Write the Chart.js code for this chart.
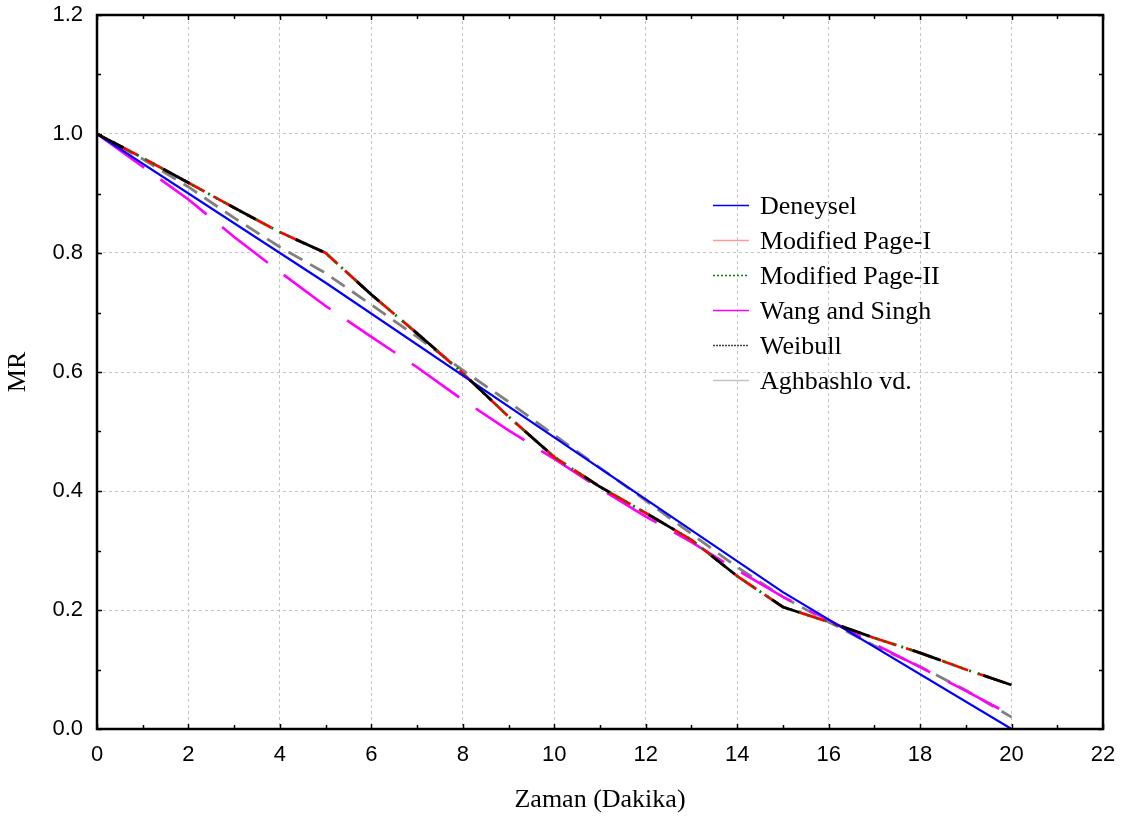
<!DOCTYPE html>
<html>
<head>
<meta charset="utf-8">
<title>MR - Zaman</title>
<script src="https://cdn.jsdelivr.net/npm/chart.js@4/dist/chart.umd.min.js"></script>
<style>
  html, body { margin: 0; padding: 0; background: #fff; }
  canvas { display: block; }
</style>
</head>
<body>
<canvas id="myChart" width="1129" height="823"></canvas>
<script>
// olcum zamanlari (dk)
var olcumZaman = [0, 5, 10, 15, 20];
var deneysel = [1.0, 0.75, 0.49, 0.23, 0.0];

// model ciktilari her dakika icin
var modelZaman = [0, 1, 2, 3, 4, 5, 6, 7, 8, 9, 10, 11, 12, 13, 14, 15, 16, 17, 18, 19, 20];
var modPage1 = [1.0, 0.96, 0.918, 0.876, 0.835, 0.80, 0.73, 0.665, 0.598, 0.525, 0.457, 0.407, 0.363, 0.318, 0.257, 0.205, 0.18, 0.153, 0.128, 0.10, 0.074];
var modPage2 = [1.0, 0.96, 0.918, 0.876, 0.835, 0.80, 0.73, 0.665, 0.598, 0.525, 0.457, 0.407, 0.363, 0.318, 0.257, 0.205, 0.18, 0.153, 0.128, 0.10, 0.074];
var wangSingh = [1.0, 0.945, 0.89, 0.827, 0.768, 0.711, 0.659, 0.608, 0.553, 0.502, 0.454, 0.404, 0.357, 0.314, 0.267, 0.222, 0.183, 0.143, 0.104, 0.064, 0.023];
var weibull = [1.0, 0.96, 0.918, 0.876, 0.835, 0.80, 0.73, 0.665, 0.598, 0.525, 0.457, 0.407, 0.363, 0.318, 0.257, 0.205, 0.18, 0.153, 0.128, 0.10, 0.074];
var aghbashlo = [1.0, 0.958, 0.911, 0.859, 0.81, 0.766, 0.713, 0.659, 0.603, 0.55, 0.494, 0.439, 0.384, 0.328, 0.272, 0.222, 0.18, 0.14, 0.105, 0.065, 0.02];

var xTicks = [0, 2, 4, 6, 8, 10, 12, 14, 16, 18, 20, 22];
var yTicks = [0.0, 0.2, 0.4, 0.6, 0.8, 1.0, 1.2];

function pts(xs, ys) {
    return xs.map(function (x, i) { return { x: x, y: ys[i] }; });
}

// cerceve, iceri bakan tik cizgileri ve grafik icindeki aciklama
var cerceve = {
    id: 'cerceve',
    afterDatasetsDraw: function (chart) {
        var ctx = chart.ctx, a = chart.chartArea;
        var sx = chart.scales.x, sy = chart.scales.y;
        ctx.save();
        ctx.strokeStyle = '#000';
        ctx.lineWidth = 1.5;
        ctx.beginPath();
        for (var v = 0; v <= 22; v++) {
            var px = Math.round(sx.getPixelForValue(v)) + 0.5;
            var len = v % 2 === 0 ? 5 : 4;
            ctx.moveTo(px, a.bottom); ctx.lineTo(px, a.bottom - len);
            ctx.moveTo(px, a.top); ctx.lineTo(px, a.top + len);
        }
        for (var i = 0; i <= 12; i++) {
            var py = Math.round(sy.getPixelForValue(i / 10)) + 0.5;
            var l2 = i % 2 === 0 ? 5 : 4;
            ctx.moveTo(a.left, py); ctx.lineTo(a.left + l2, py);
            ctx.moveTo(a.right, py); ctx.lineTo(a.right - l2, py);
        }
        ctx.stroke();
        ctx.lineWidth = 2.5;
        ctx.strokeRect(a.left, a.top, a.right - a.left, a.bottom - a.top);
        ctx.restore();
    },
    afterDraw: function (chart) {
        var ctx = chart.ctx, a = chart.chartArea;
        var x0 = a.left + 616, y0 = a.top + 190, dy = 34.9;
        ctx.save();
        ctx.font = '26px "Liberation Serif", "Times New Roman", serif';
        ctx.textBaseline = 'middle';
        ctx.fillStyle = '#000';
        chart.data.datasets.forEach(function (ds, i) {
            var y = Math.round(y0 + i * dy) + 0.5;
            ctx.strokeStyle = ds.legendColor || ds.borderColor;
            ctx.lineWidth = 1.5;
            ctx.setLineDash(ds.legendDash || []);
            ctx.beginPath();
            ctx.moveTo(x0, y);
            ctx.lineTo(x0 + 36, y);
            ctx.stroke();
            ctx.fillText(ds.label, x0 + 47, y + 2);
        });
        ctx.restore();
    }
};

var ctx = document.getElementById('myChart').getContext('2d');
var myChart = new Chart(ctx, {
    type: 'line',
    data: {
        datasets: [{
            label: 'Deneysel',
            data: pts(olcumZaman, deneysel),
            borderColor: '#0000ff',
            borderWidth: 2.2,
            order: 2
        }, {
            label: 'Modified Page-I',
            data: pts(modelZaman, modPage1),
            borderColor: '#ff0000',
            legendColor: '#ff9a9a',
            borderWidth: 2.8,
            borderDash: [28, 10],
            borderDashOffset: 20,
            order: 4
        }, {
            label: 'Modified Page-II',
            data: pts(modelZaman, modPage2),
            borderColor: '#008000',
            borderWidth: 2.8,
            borderDash: [2, 7],
            legendDash: [2, 2],
            order: 3
        }, {
            label: 'Wang and Singh',
            data: pts(modelZaman, wangSingh),
            borderColor: '#ff00ff',
            borderWidth: 2.6,
            borderDash: [58, 20],
            order: 5
        }, {
            label: 'Weibull',
            data: pts(modelZaman, weibull),
            borderColor: '#000000',
            legendColor: '#444444',
            borderWidth: 2.8,
            borderDash: [30, 45],
            legendDash: [2, 1],
            order: 1
        }, {
            label: 'Aghbashlo vd.',
            data: pts(modelZaman, aghbashlo),
            borderColor: '#808080',
            legendColor: '#c4c4c4',
            borderWidth: 2.8,
            borderDash: [16, 9],
            order: 6
        }]
    },
    options: {
        responsive: false,
        animation: false,
        devicePixelRatio: 1,
        layout: { padding: { top: 15, right: 26, left: 0, bottom: 0 } },
        elements: {
            point: { radius: 0, hoverRadius: 0 },
            line: { tension: 0, fill: false }
        },
        plugins: {
            legend: { display: false },
            tooltip: { enabled: false }
        },
        scales: {
            x: {
                type: 'linear',
                min: 0,
                max: 22,
                afterBuildTicks: function (scale) {
                    scale.ticks = xTicks.map(function (v) { return { value: v }; });
                },
                afterFit: function (scale) { scale.height = 94; },
                ticks: {
                    color: '#000',
                    padding: 13,
                    maxRotation: 0,
                    autoSkip: false,
                    font: { family: '"Liberation Sans", Arial, sans-serif', size: 22 },
                    callback: function (v) { return String(v); }
                },
                grid: { color: '#c4c4c4', lineWidth: 1, drawTicks: false },
                border: { display: false, dash: [3, 3] },
                title: {
                    display: true,
                    text: 'Zaman (Dakika)',
                    color: '#000',
                    padding: { bottom: 7 },
                    font: { family: '"Liberation Serif", "Times New Roman", serif', size: 26 }
                }
            },
            y: {
                type: 'linear',
                min: 0,
                max: 1.2,
                afterBuildTicks: function (scale) {
                    scale.ticks = yTicks.map(function (v) { return { value: v }; });
                },
                afterFit: function (scale) {
                    scale.width = 97;
                    scale.paddingTop = 0;
                    scale.paddingBottom = 0;
                },
                ticks: {
                    color: '#000',
                    padding: 14,
                    font: { family: '"Liberation Sans", Arial, sans-serif', size: 22 },
                    callback: function (v) { return Number(v).toFixed(1); }
                },
                grid: { color: '#c4c4c4', lineWidth: 1, drawTicks: false },
                border: { display: false, dash: [3, 3] },
                title: {
                    display: true,
                    text: 'MR',
                    color: '#000',
                    padding: { top: 3 },
                    font: { family: '"Liberation Serif", "Times New Roman", serif', size: 26 }
                }
            }
        }
    },
    plugins: [cerceve]
});
</script>
</body>
</html>
